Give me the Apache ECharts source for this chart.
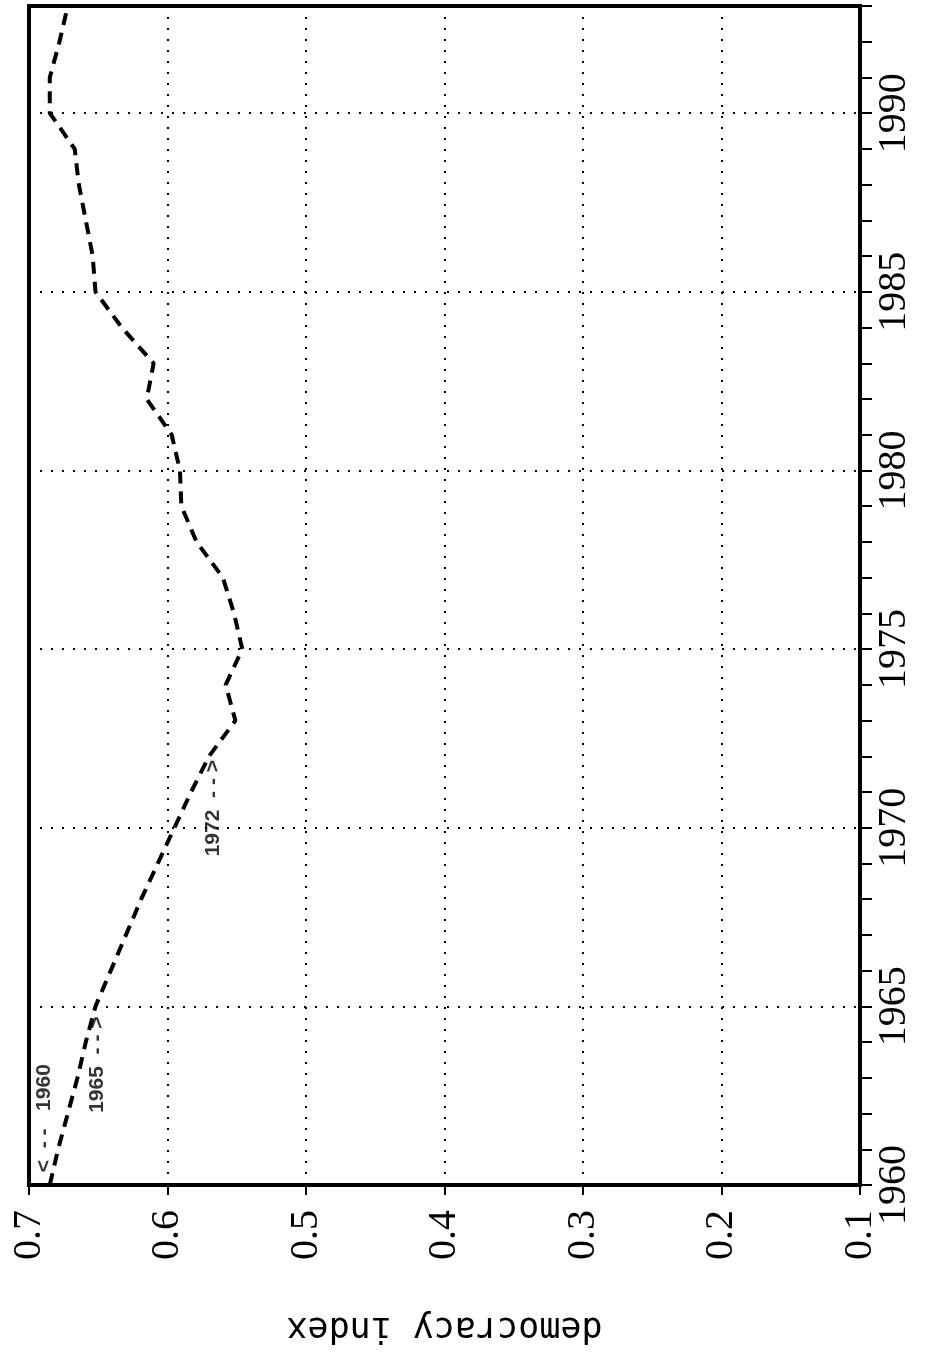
<!DOCTYPE html>
<html>
<head>
<meta charset="utf-8">
<script src="https://cdn.jsdelivr.net/npm/echarts@6/dist/echarts.min.js"></script>
<style>
html, body { margin: 0; padding: 0; background: #fff; }
#chart { width: 926px; height: 1355px; }
</style>
</head>
<body>
<div id="chart"></div>
<script>
// 年份 / 民主指数 (图是逆时针旋转90度印的)
var years = [1960, 1961, 1962, 1963, 1964, 1965, 1966, 1967, 1968, 1969,
  1970, 1971, 1972, 1973, 1974, 1975, 1976, 1977, 1978, 1979,
  1980, 1981, 1982, 1983, 1984, 1985, 1986, 1987, 1988, 1989,
  1990, 1991, 1992, 1993];
var democracy = [0.685, 0.679, 0.672, 0.665, 0.659, 0.652, 0.641, 0.630, 0.619, 0.607,
  0.595, 0.583, 0.570, 0.551, 0.558, 0.546, 0.552, 0.560, 0.579, 0.590,
  0.591, 0.597, 0.615, 0.610, 0.633, 0.652, 0.654, 0.659, 0.664, 0.667,
  0.685, 0.685, 0.678, 0.672];

// 标注文字
var noteText = ['<  - -   1960', '1965  - - >', '1972  - - >'];
var noteIndex = [0.6892, 0.6509, 0.5671];
var noteYear = [1960.36, 1962.02, 1969.2];

var ink = '#000';
var serif = '"Liberation Serif", "Times New Roman", serif';
var mono = '"DejaVu Sans Mono", monospace';
var sans = '"Liberation Sans", Arial, sans-serif';

var myChart = echarts.init(document.getElementById('chart'));

var lineData = years.map(function(y, i) {
  return [democracy[i], y];
});
var noteData = noteText.map(function(t, i) {
  return { name: t, value: [noteIndex[i], noteYear[i]] };
});

myChart.setOption({
  animation: false,
  backgroundColor: '#fff',
  grid: {
    left: 29,
    right: 66,
    top: 6,
    bottom: 170,
    show: true,
    borderColor: ink,
    borderWidth: 4
  },
  xAxis: {
    type: 'value',
    inverse: true,
    min: 0.1,
    max: 0.7,
    interval: 0.1,
    position: 'bottom',
    name: 'democracy index',
    nameLocation: 'middle',
    nameRotate: 180,
    nameGap: 125,
    nameTextStyle: {
      fontFamily: mono,
      fontSize: 35,
      color: ink
    },
    axisLine: { show: true, lineStyle: { color: ink, width: 4 } },
    axisTick: { show: true, length: 10, lineStyle: { color: ink, width: 2 } },
    axisLabel: {
      rotate: 90,
      margin: 25,
      fontFamily: serif,
      fontSize: 40,
      color: ink,
      formatter: function(v) { return v.toFixed(1); }
    },
    splitLine: { show: true, lineStyle: { color: ink, type: [2, 9], width: 2 } }
  },
  yAxis: [{
    type: 'value',
    position: 'right',
    min: 1960,
    max: 1993,
    interval: 5,
    axisLine: { show: true, lineStyle: { color: ink, width: 4 } },
    axisTick: { show: false },
    axisLabel: {
      rotate: 90,
      margin: 14,
      showMaxLabel: false,
      fontFamily: serif,
      fontSize: 40,
      color: ink,
      formatter: function(v) { return String(Math.round(v)); }
    },
    splitLine: { show: true, lineStyle: { color: ink, type: [2, 9], width: 2 } }
  }, {
    // 每年的小刻度
    type: 'value',
    position: 'right',
    min: 1960,
    max: 1993,
    interval: 1,
    axisLine: { show: false },
    axisTick: { show: true, length: 12, lineStyle: { color: ink, width: 2 } },
    axisLabel: { show: false },
    splitLine: { show: false }
  }],
  series: [{
    type: 'line',
    yAxisIndex: 0,
    data: lineData,
    showSymbol: false,
    lineStyle: { color: ink, width: 4, type: [12, 8] }
  }, {
    type: 'scatter',
    yAxisIndex: 0,
    data: noteData,
    symbolSize: 0,
    silent: true,
    label: {
      show: true,
      position: 'inside',
      rotate: 90,
      align: 'left',
      verticalAlign: 'middle',
      fontFamily: sans,
      fontWeight: 'bold',
      fontSize: 21,
      color: ink,
      formatter: function(p) { return p.name; }
    }
  }]
});
</script>
</body>
</html>
